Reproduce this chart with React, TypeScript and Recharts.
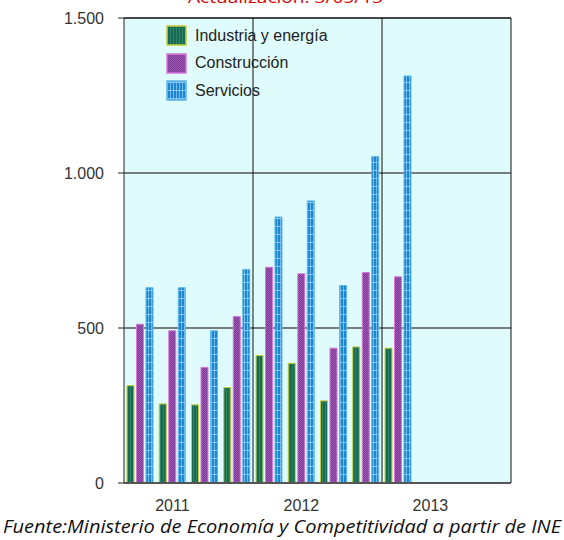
import React from 'react';
import { BarChart, Bar, XAxis, YAxis, CartesianGrid, ReferenceLine } from 'recharts';

const quarters = ['2011T1', '2011T2', '2011T3', '2011T4', '2012T1', '2012T2', '2012T3', '2012T4', '2013T1', '2013T2', '2013T3', '2013T4'];
const industria = [314, 255, 252, 308, 411, 386, 265, 439, 435, null, null, null];
const construccion = [512, 491, 373, 537, 696, 675, 435, 679, 665, null, null, null];
const servicios = [630, 630, 491, 689, 858, 910, 637, 1053, 1313, null, null, null];
const yTicks = [0, 500, 1000, 1500];

const data = quarters.map((q, i) => ({
	q,
	industria: industria[i],
	construccion: construccion[i],
	servicios: servicios[i],
}));

const font = '"Liberation Sans", Arial, sans-serif';

const legendItems = [
	{ name: 'Industria y energía', fill: 'url(#pGreen)', stroke: '#c6cc3a' },
	{ name: 'Construcción', fill: 'url(#pPurple)', stroke: '#d877d8' },
	{ name: 'Servicios', fill: 'url(#pBlue)', stroke: '#5cb6ec' },
];

function LegendBox() {
	return (
		<div style={{ position: 'absolute', left: 166, top: 22, fontFamily: font, fontSize: 16, color: '#222' }}>
			{legendItems.map((it) => (
				<div key={it.name} style={{ display: 'flex', alignItems: 'center', height: 27.5 }}>
					<svg width={21} height={21} style={{ marginRight: 8 }}>
						<rect x={1} y={1} width={19} height={19} fill={it.fill} stroke={it.stroke} strokeWidth={1.5} />
					</svg>
					<span>{it.name}</span>
				</div>
			))}
		</div>
	);
}

export default function App() {
	return (
		<div style={{ position: 'absolute', left: 0, top: 0, width: 564, height: 540, background: '#fff', overflow: 'hidden' }}>
			<BarChart
				width={564}
				height={540}
				data={data}
				margin={{ top: 18, right: 53, left: 0, bottom: 27 }}
				barSize={7}
				barGap={2.5}
				style={{ fontFamily: font }}
			>
				<defs>
					<pattern id="pGreen" width="3" height="4" patternUnits="userSpaceOnUse">
						<rect width="3" height="4" fill="#1a6a55" />
						<rect x="1" width="1" height="4" fill="#2a8468" />
					</pattern>
					<pattern id="pPurple" width="2" height="2" patternUnits="userSpaceOnUse">
						<rect width="2" height="2" fill="#7a3a92" />
						<rect width="1" height="1" fill="#a059b6" />
						<rect x="1" y="1" width="1" height="1" fill="#a059b6" />
					</pattern>
					<pattern id="pBlue" width="3" height="8" patternUnits="userSpaceOnUse">
						<rect width="3" height="8" fill="#1a86cd" />
						<rect x="1" width="1" height="8" fill="#74b9ec" />
						<rect y="2" width="3" height="1" fill="#8cc6f0" />
					</pattern>
				</defs>
				<CartesianGrid vertical={false} fill="#dffbfc" stroke="#555" strokeWidth={1.5} />
				<XAxis
					dataKey="q"
					interval={0}
					tickFormatter={(v: string) => (v.endsWith('T2') ? v.slice(0, 4) : '')}
					axisLine={false}
					tickLine={false}
					tickSize={0}
					tickMargin={17}
					height={30}
					tick={{ fill: '#333', fontSize: 16 }}
				/>
				<YAxis
					domain={[0, 1500]}
					ticks={yTicks}
					tickFormatter={(v: number) => v.toLocaleString('de-DE')}
					width={124}
					tickSize={6}
					tickMargin={14}
					axisLine={{ stroke: '#222' }}
					tickLine={{ stroke: '#222' }}
					tick={{ fill: '#333', fontSize: 16 }}
				/>
				<ReferenceLine x="2012T1" position="start" stroke="#111" />
				<ReferenceLine x="2013T1" position="start" stroke="#111" />
				<ReferenceLine x="2013T4" position="end" stroke="#111" />
				<ReferenceLine y={1500} stroke="#111" />
				<ReferenceLine y={0} stroke="#555" strokeWidth={2} />
				<Bar dataKey="industria" name="Industria y energía" fill="url(#pGreen)" stroke="#c6cc3a" strokeWidth={1} isAnimationActive={false} />
				<Bar dataKey="construccion" name="Construcción" fill="url(#pPurple)" stroke="#d877d8" strokeWidth={1} isAnimationActive={false} />
				<Bar dataKey="servicios" name="Servicios" fill="url(#pBlue)" stroke="#5cb6ec" strokeWidth={1} isAnimationActive={false} />
			</BarChart>
			<svg width={564} height={540} style={{ position: 'absolute', left: 0, top: 0, pointerEvents: 'none' }}>
				<text x={188} y={3} fill="#e00000" fontSize={17} fontFamily='"Open Sans", sans-serif' textLength={195} lengthAdjust="spacingAndGlyphs">
					Actualización: 3/05/13
				</text>
				<text x={3} y={533} fill="#111" fontSize={19} fontStyle="italic" fontFamily='"Open Sans", sans-serif' textLength={558} lengthAdjust="spacingAndGlyphs">
					Fuente:Ministerio de Economía y Competitividad a partir de INE
				</text>
			</svg>
			<LegendBox />
		</div>
	);
}
